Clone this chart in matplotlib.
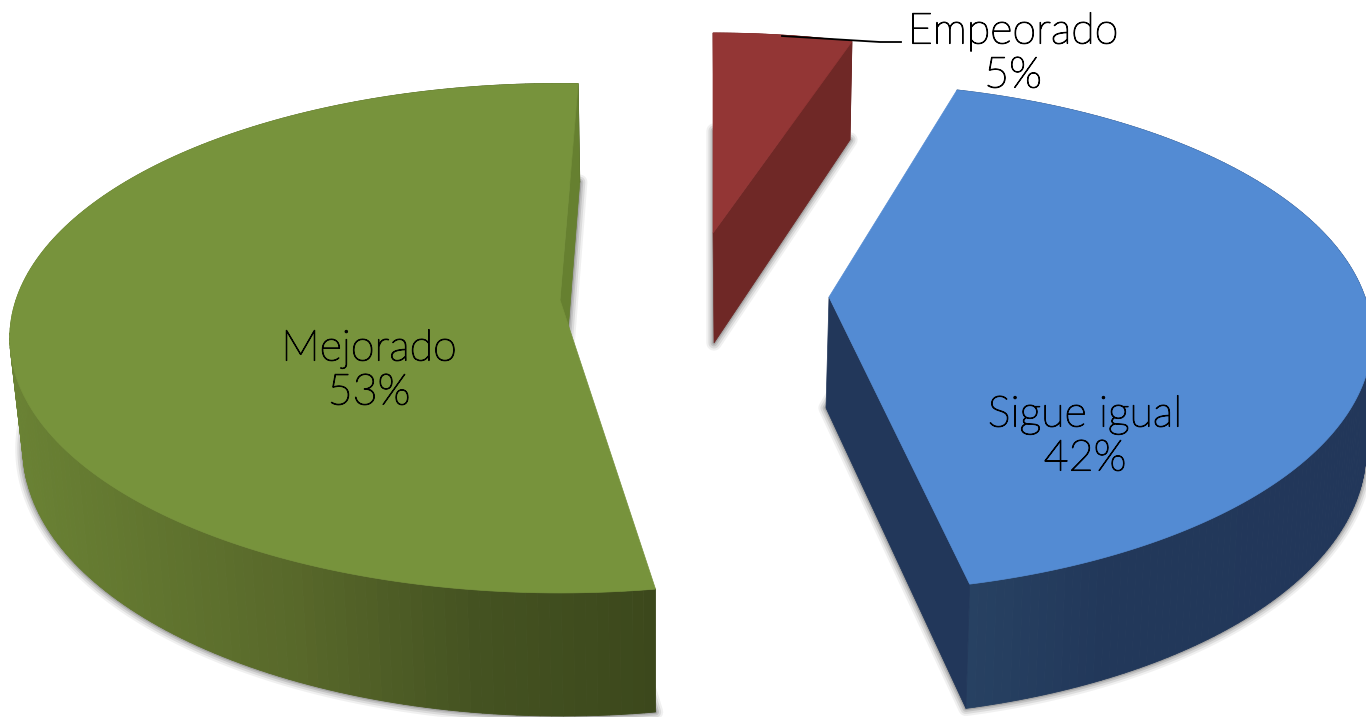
# plot.py - exploded 3D-look pie, drawn by hand since matplotlib has no perspective pie
import numpy as np
import matplotlib
matplotlib.use("Agg")
import matplotlib.pyplot as plt
import matplotlib.patheffects as pe
from matplotlib.patches import Polygon

labels = ["Empeorado", "Sigue igual", "Mejorado"]
values = [5, 42, 53]

TOP_COLORS = ["#933635", "#538BD3", "#77933C"]
FACE_COLORS = ["#6F2826", "#22375A", "#668030"]

# side shading from left to right (x pixel, rgb)
SIDE_SHADE = [
    ([700, 860], [(111, 40, 38), (111, 40, 38)]),
    ([970, 1100, 1366], [(39, 65, 98), (34, 56, 90), (34, 55, 90)]),
    ([20, 300, 480, 655], [(106, 130, 52), (88, 104, 42), (68, 82, 33), (60, 72, 28)]),
]

# per slice view: apex, x scale, y scale for the top and bottom discs, plus first angle
VIEWS = [
    {"start": 0.0, "k": 0.16, "top": (713, 233, 518, 232), "bot": (714, 343, 507, 246)},
    {"start": 16.0, "k": 0.16, "top": (829, 297, 536, 248.5), "bot": (826, 408, 533, 260)},
    {"start": 171.4, "k": 0.15, "top": (560, 300, 544, 249), "bot": (562, 409, 533, 261)},
]

LABEL_POS = [(1013, 54), (1085, 437), (369, 371)]


def project(theta, disc, k):
    ax_, ay, sx, sy = disc
    x = np.sin(theta)
    y = -np.cos(theta)
    w = 1 - k * y
    return ax_ + sx * x / w, ay + sy * y / w


def draw_shadow(ax, xy):
    # soft edge around the base of the slice
    for lw, alpha in [(11, 0.08), (8, 0.12), (5, 0.16), (2.5, 0.22)]:
        ax.add_patch(Polygon(xy, closed=True, facecolor="#444444", edgecolor="#444444",
                             lw=lw, alpha=alpha, joinstyle="round", zorder=1))


def draw_slice(ax, i, a0, a1):
    view = VIEWS[i]
    k = view["k"]
    theta = np.radians(np.linspace(a0, a1, 181))
    tx, ty = project(theta, view["top"], k)
    bx, by = project(theta, view["bot"], k)
    top_apex = view["top"][:2]
    bot_apex = view["bot"][:2]

    top_poly = np.vstack([[top_apex], np.column_stack([tx, ty])])
    bot_poly = np.vstack([[bot_apex], np.column_stack([bx, by])])
    draw_shadow(ax, bot_poly)

    # curved rim, one quad per step so the shade can run along it
    xs, stops = SIDE_SHADE[i]
    stops = np.array(stops) / 255
    for j in range(len(theta) - 1):
        mid = (bx[j] + bx[j + 1]) / 2
        col = [np.interp(mid, xs, stops[:, c]) for c in range(3)]
        quad = [(tx[j], ty[j]), (tx[j + 1], ty[j + 1]), (bx[j + 1], by[j + 1]), (bx[j], by[j])]
        ax.add_patch(Polygon(quad, closed=True, facecolor=col, edgecolor=col, lw=0.6, zorder=2))

    # straight wall on the closing edge, next to the apex
    wall = [top_apex, (tx[-1], ty[-1]), (bx[-1], by[-1]), bot_apex]
    ax.add_patch(Polygon(wall, closed=True, facecolor=FACE_COLORS[i], edgecolor=FACE_COLORS[i],
                         lw=0.5, zorder=3))

    ax.add_patch(Polygon(top_poly, closed=True, facecolor=TOP_COLORS[i], edgecolor=TOP_COLORS[i],
                         lw=0.5, zorder=4))


def main():
    fig = plt.figure(figsize=(13.66, 7.17), dpi=100)
    ax = fig.add_axes([0, 0, 1, 1])
    ax.set_xlim(0, 1366)
    ax.set_ylim(717, 0)
    ax.axis("off")

    for i, val in enumerate(values):
        a0 = VIEWS[i]["start"]
        draw_slice(ax, i, a0, a0 + 360 * val / sum(values))

    # leader line for the small slice
    ax.plot([782, 880, 901], [36, 42, 42], color="black", lw=1.3, zorder=5)

    # the light weight is a bit too thin on its own, so thicken it slightly
    for label, val, (x, y) in zip(labels, values, LABEL_POS):
        ax.text(x, y, f"{label}\n{val}%", ha="center", va="center", family="Lato",
                weight="light", fontsize=31, color="black", linespacing=1.16, zorder=6,
                path_effects=[pe.withStroke(linewidth=0.8, foreground="black")])

    fig.savefig("out.png", dpi=100)
    plt.close(fig)


if __name__ == "__main__":
    main()
